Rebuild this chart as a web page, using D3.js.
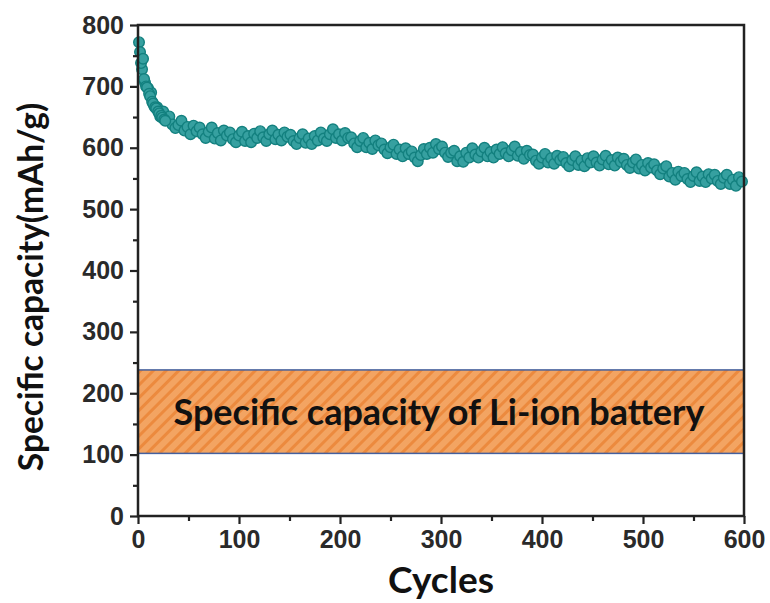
<!DOCTYPE html>
<html>
<head>
<meta charset="utf-8">
<script src="https://cdn.jsdelivr.net/npm/d3@7"></script>
<style>
  body { margin: 0; background: #fff; }
  svg { display: block; }
</style>
</head>
<body>
<svg id="chart" width="770" height="603"></svg>
<script>
// capacity, one point every 3 cycles starting at cycle 1
var capacity = [
  772, 728, 706, 697, 690, 668, 666, 651, 659, 646,
  651, 638, 632, 637, 644, 628, 634, 622, 636, 627,
  633, 622, 616, 626, 633, 615, 624, 612, 628, 620,
  625, 614, 609, 620, 626, 611, 619, 609, 623, 616,
  627, 617, 611, 622, 628, 614, 621, 612, 625, 618,
  621, 611, 606, 616, 622, 608, 615, 606, 619, 612,
  625, 615, 611, 622, 630, 616, 622, 612, 624, 616,
  617, 607, 601, 611, 616, 601, 608, 598, 612, 604,
  607, 597, 591, 601, 605, 590, 597, 586, 599, 590,
  594, 584, 578, 588, 598, 590, 600, 592, 606, 598,
  602, 592, 585, 592, 595, 578, 586, 577, 592, 584,
  599, 589, 584, 594, 600, 586, 593, 584, 597, 590,
  601, 591, 586, 596, 602, 587, 593, 582, 595, 588,
  589, 579, 574, 584, 590, 576, 583, 574, 587, 580,
  585, 575, 570, 580, 586, 572, 579, 570, 583, 576,
  586, 576, 571, 581, 587, 573, 580, 571, 584, 577,
  582, 572, 567, 576, 581, 566, 572, 563, 575, 568,
  573, 563, 557, 566, 570, 553, 559, 548, 561, 554,
  559, 549, 544, 554, 560, 546, 553, 544, 557, 550,
  556, 546, 541, 551, 556, 541, 548, 538, 552, 545
];
var cycles = d3.range(1, 601, 3);

// the first cycles, where the fade is steep and the points are dense
var earlyCycles = [2, 3, 5, 6, 8, 9, 11, 12, 14, 15, 17, 18, 20, 21, 23, 24, 26, 27];
var earlyCapacity = [756, 738, 745, 712, 700, 698, 688, 684, 675, 672, 666, 664, 659, 656, 652, 649, 646, 644];

var xTicks = [0, 100, 200, 300, 400, 500, 600];
var xMinor = [50, 150, 250, 350, 450, 550];
var yTicks = [0, 100, 200, 300, 400, 500, 600, 700, 800];
var yMinor = [50, 150, 250, 350, 450, 550, 650, 750];

var liIonBand = [102, 238];
var bandLabel = 'Specific capacity of Li-ion battery';

var svg = d3.select('#chart'),
    mLeft = 138, mRight = 744, mTop = 25, mBottom = 516;

var x = d3.scaleLinear().domain([0, 600]).range([mLeft, mRight]);
var y = d3.scaleLinear().domain([0, 800]).range([mBottom, mTop]);

var points = cycles.map(function(c, i) { return { c: c, v: capacity[i] }; })
  .concat(earlyCycles.map(function(c, i) { return { c: c, v: earlyCapacity[i] }; }));

// hatch pattern for the Li-ion band
var defs = svg.append('defs');
var pat = defs.append('pattern')
  .attr('id', 'hatch')
  .attr('patternUnits', 'userSpaceOnUse')
  .attr('width', 9).attr('height', 9)
  .attr('patternTransform', 'rotate(45)');
pat.append('rect').attr('width', 9).attr('height', 9).attr('fill', '#f3a462');
pat.append('rect').attr('width', 3).attr('height', 9).attr('fill', '#ec8a3e');

// data markers
svg.append('g').selectAll('circle')
  .data(points)
  .enter().append('circle')
  .attr('cx', function(d) { return x(d.c); })
  .attr('cy', function(d) { return y(d.v); })
  .attr('r', 5.3)
  .attr('fill', '#36a0a0')
  .attr('stroke', '#13807f')
  .attr('stroke-width', 1.4);

// Li-ion band
svg.append('rect')
  .attr('x', x(0))
  .attr('y', y(liIonBand[1]))
  .attr('width', x(600) - x(0))
  .attr('height', y(liIonBand[0]) - y(liIonBand[1]))
  .attr('fill', 'url(#hatch)')
  .attr('stroke', '#44609e')
  .attr('stroke-width', 1.5);

svg.append('text')
  .attr('x', (x(0) + x(600)) / 2 - 2)
  .attr('y', (y(liIonBand[0]) + y(liIonBand[1])) / 2 + 13)
  .attr('text-anchor', 'middle')
  .attr('font-family', 'Lato')
  .attr('font-weight', 'bold')
  .attr('font-size', '36px')
  .attr('fill', '#111')
  .text(bandLabel);

// axes
svg.append('g')
  .attr('transform', 'translate(0,' + mBottom + ')')
  .call(d3.axisBottom(x).tickValues(xTicks).tickSize(8).tickPadding(6));
svg.append('g')
  .attr('transform', 'translate(0,' + mBottom + ')')
  .call(d3.axisBottom(x).tickValues(xMinor).tickSize(5).tickFormat(''));

svg.append('g')
  .attr('transform', 'translate(' + mLeft + ',0)')
  .call(d3.axisLeft(y).tickValues(yTicks).tickSize(8).tickPadding(6));
svg.append('g')
  .attr('transform', 'translate(' + mLeft + ',0)')
  .call(d3.axisLeft(y).tickValues(yMinor).tickSize(5).tickFormat(''));

svg.selectAll('.domain').remove();
svg.selectAll('.tick line').attr('stroke', '#222').attr('stroke-width', 2.2);
svg.selectAll('.tick text')
  .attr('font-family', 'Liberation Sans, Arial')
  .attr('font-weight', 'bold')
  .attr('font-size', '25px')
  .attr('fill', '#2a2a2a');

// frame
svg.append('rect')
  .attr('x', mLeft).attr('y', mTop)
  .attr('width', mRight - mLeft).attr('height', mBottom - mTop)
  .attr('fill', 'none')
  .attr('stroke', '#222')
  .attr('stroke-width', 2.5);

// axis titles
svg.append('text')
  .attr('x', (mLeft + mRight) / 2)
  .attr('y', 593)
  .attr('text-anchor', 'middle')
  .attr('font-family', 'Lato')
  .attr('font-weight', 'bold')
  .attr('font-size', '37px')
  .attr('fill', '#111')
  .text('Cycles');

svg.append('text')
  .attr('transform', 'translate(43,287) rotate(-90)')
  .attr('text-anchor', 'middle')
  .attr('font-family', 'Lato')
  .attr('font-weight', 'bold')
  .attr('font-size', '33.5px')
  .attr('fill', '#111')
  .text('Specific capacity(mAh/g)');
</script>
</body>
</html>
